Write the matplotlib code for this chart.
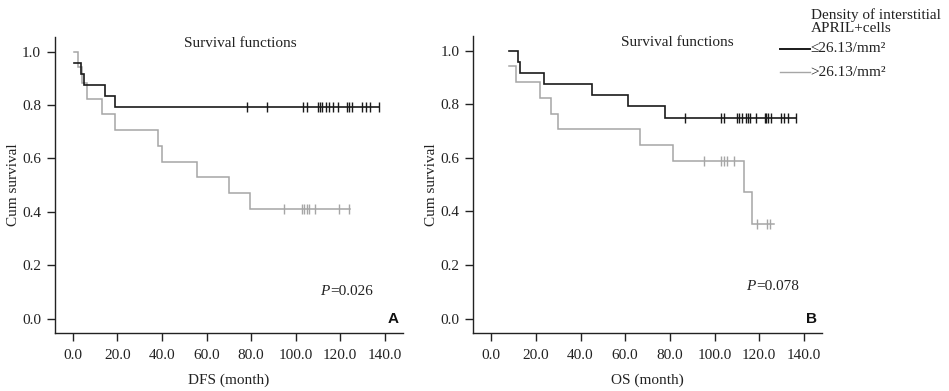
import numpy as np
import matplotlib
matplotlib.use("Agg")
import matplotlib.pyplot as plt
from matplotlib.lines import Line2D

plt.rcParams['font.family'] = ['Liberation Serif', 'DejaVu Serif']

# ---- data ----
# Panel A (DFS)
a_low_t = [0.6, 3.5, 4.8, 14.4, 18.7]
a_low_s = [0.958, 0.917, 0.875, 0.833, 0.792]
a_low_end = 137.5
a_low_cens = [78.0, 87.3, 103.4, 104.9, 110.1, 111.0, 111.9, 113.6, 115.1, 116.6,
              119.0, 122.9, 123.9, 125.1, 129.9, 131.5, 133.3, 137.5]

a_high_t = [0.6, 2.5, 4.0, 6.3, 13.3, 18.7, 38.3, 40.2, 55.6, 70.2, 79.5]
a_high_s = [1.0, 0.941, 0.882, 0.824, 0.765, 0.706, 0.647, 0.588, 0.529, 0.471, 0.412]
a_high_end = 124.4
a_high_cens = [94.7, 103.0, 103.9, 104.9, 106.1, 108.7, 119.6, 123.9]

# Panel B (OS)
b_low_t = [7.9, 11.8, 13.1, 23.6, 45.2, 61.2, 77.8]
b_low_s = [1.0, 0.958, 0.917, 0.875, 0.833, 0.792, 0.75]
b_low_end = 136.6
b_low_cens = [87.0, 103.1, 104.1, 110.1, 111.0, 112.2, 114.1, 115.0, 116.1, 118.4,
              122.5, 123.0, 123.8, 125.3, 129.6, 131.1, 132.9, 136.6]

b_high_t = [7.9, 10.9, 21.8, 26.6, 29.8, 66.7, 81.5, 113.2, 116.6]
b_high_s = [0.941, 0.882, 0.824, 0.765, 0.706, 0.647, 0.588, 0.471, 0.353]
b_high_end = 126.5
b_high_cens = [95.2, 103.1, 104.2, 105.6, 108.7, 119.2, 123.5, 124.7]

x_ticks = [0, 20, 40, 60, 80, 100, 120, 140]
y_ticks = [0.0, 0.2, 0.4, 0.6, 0.8, 1.0]
legend_title = "Density of interstitial\nAPRIL+cells"
labels = ["\u226426.13/mm\u00b2", ">26.13/mm\u00b2"]

BLACK = "#1a1a1a"
GRAY = "#a6a6a6"

W, H = 949, 391
fig = plt.figure(figsize=(W / 100, H / 100), dpi=100)

def px_ax(l, r, t, b):
    return fig.add_axes([l / W, 1 - b / H, (r - l) / W, (b - t) / H])

axA = px_ax(55, 402.7, 36.7, 333.3)
axB = px_ax(473.3, 821.7, 35.5, 333.3)

def draw_km(ax, t, s, end, cens, color, lw):
    xs = list(t) + [end]
    ys = list(s) + [s[-1]]
    ax.step(xs, ys, where='post', color=color, lw=lw, solid_joinstyle='miter')
    idx = np.searchsorted(np.array(t), np.array(cens), side='right') - 1
    cy = np.array(s)[idx]
    ax.plot(cens, cy, linestyle='none', marker='|', markersize=6.5,
            markeredgewidth=1.0, color=color)

def style(ax, xlabel, ptext, pxy, letter, title_x):
    ax.set_xlim(-8, 148)
    ax.set_ylim(-0.055, 1.056)
    ax.set_xticks(x_ticks)
    ax.set_xticklabels([f"{v:.1f}" for v in x_ticks])
    ax.set_yticks(y_ticks)
    ax.set_yticklabels([f"{v:.1f}" for v in y_ticks])
    for sp in ['top', 'right']:
        ax.spines[sp].set_visible(False)
    for sp in ['left', 'bottom']:
        ax.spines[sp].set_linewidth(1.0)
        ax.spines[sp].set_color('#222222')
    ax.tick_params(direction='out', length=6, width=1.0, labelsize=11,
                   colors='#222222')
    ax.tick_params(axis='x', pad=5.5)
    ax.tick_params(axis='y', pad=4)
    ax.set_xlabel(xlabel, fontsize=11, labelpad=8, color='#222222')
    ax.set_ylabel("Cum survival", fontsize=11, labelpad=1.5, color='#222222')
    ax.text(title_x, 1.03, "Survival functions", ha='center', va='center',
            fontsize=11, color='#222222')
    ax.text(pxy[0], pxy[1], "P", fontstyle='italic', ha='left', va='center',
            fontsize=11, color='#222222')
    ax.text(pxy[0] + 4.6, pxy[1], ptext, ha='left', va='center',
            fontsize=11, color='#222222')
    ax.text(143.6, 0.0, letter, ha='center', va='center', fontsize=11,
            fontweight='bold', family='Liberation Sans', color='#111111')

draw_km(axA, a_high_t, a_high_s, a_high_end, a_high_cens, GRAY, 1.1)
draw_km(axA, a_low_t, a_low_s, a_low_end, a_low_cens, BLACK, 1.2)
draw_km(axB, b_high_t, b_high_s, b_high_end, b_high_cens, GRAY, 1.1)
draw_km(axB, b_low_t, b_low_s, b_low_end, b_low_cens, BLACK, 1.2)

style(axA, "DFS (month)", "=0.026", (111, 0.102), "A", 75)
style(axB, "OS (month)", "=0.078", (114, 0.118), "B", 83.3)

# legend (figure pixel coords)
def fx(x):
    return x / W
def fy(y):
    return 1 - y / H

fig.text(fx(811), fy(21.5), legend_title, ha='left', va='center', fontsize=11,
         linespacing=1.05, color='#222222')
fig.add_artist(Line2D([fx(780), fx(810)], [fy(49.3), fy(49.3)], color=BLACK, lw=1.4))
fig.add_artist(Line2D([fx(780), fx(810)], [fy(71.7), fy(71.7)], color=GRAY, lw=1.0))
fig.text(fx(810), fy(49), labels[0], ha='left', va='center', fontsize=11, color='#222222')
fig.text(fx(810), fy(72), labels[1], ha='left', va='center', fontsize=11, color='#222222')

fig.savefig("out.png", dpi=100)
